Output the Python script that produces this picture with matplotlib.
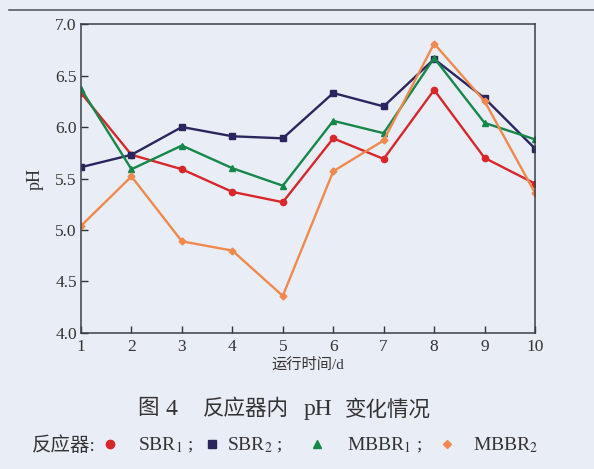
import matplotlib
matplotlib.use("Agg")
import matplotlib.pyplot as plt
from matplotlib.lines import Line2D

plt.rcParams["font.family"] = ["Liberation Serif", "Noto Sans CJK SC"]
plt.rcParams["mathtext.fontset"] = "stix"

# ---- data ----
DAYS = [1, 2, 3, 4, 5, 6, 7, 8, 9, 10]
SBR1 = [6.33, 5.73, 5.59, 5.37, 5.27, 5.89, 5.69, 6.36, 5.70, 5.45]
SBR2 = [5.61, 5.73, 6.00, 5.91, 5.89, 6.33, 6.20, 6.66, 6.28, 5.79]
MBBR1 = [6.37, 5.59, 5.82, 5.60, 5.43, 6.06, 5.94, 6.67, 6.04, 5.88]
MBBR2 = [5.04, 5.52, 4.89, 4.80, 4.36, 5.57, 5.87, 6.81, 6.25, 5.36]
YTICKS = [4.0, 4.5, 5.0, 5.5, 6.0, 6.5, 7.0]

BG = "#e9edf5"
RED, NAVY, GREEN, ORANGE = "#d8272b", "#2b255e", "#17864a", "#f0894e"
MIX = ["Liberation Serif", "Noto Sans CJK SC"]
TXT = "#333333"

fig = plt.figure(figsize=(5.94, 4.69), dpi=100, facecolor=BG)
ax = fig.add_axes([0.1364, 0.29, 0.7643, 0.6588], facecolor=BG)

ax.plot(DAYS, SBR1, color=RED, lw=1.7, marker="o", ms=4.5)
ax.plot(DAYS, SBR2, color=NAVY, lw=1.7, marker="s", ms=4)
ax.plot(DAYS, MBBR1, color=GREEN, lw=1.7, marker="^", ms=4.5)
ax.plot(DAYS, MBBR2, color=ORANGE, lw=1.7, marker="D", ms=3.5)

ax.set_xlim(1, 10)
ax.set_ylim(4.0, 7.0)
ax.set_xticks(DAYS)
ax.set_yticks(YTICKS)
ax.set_yticklabels([f"{v:.1f}" for v in YTICKS])
ax.tick_params(direction="in", length=5, width=1, labelsize=12.5, colors=TXT)
ax.tick_params(axis="x", pad=4)
ax.tick_params(axis="y", pad=3)
for s in ax.spines.values():
    s.set_color("#3a4048")
    s.set_linewidth(1.1)

ax.set_xlabel("运行时间/d", family=MIX, fontsize=11, color=TXT, labelpad=2)
ax.set_ylabel("pH", fontsize=13, color=TXT, labelpad=8)

# scan border line at top
fig.add_artist(Line2D([0.015, 1.0], [0.978, 0.978], transform=fig.transFigure,
                      color="#595c63", lw=1.2))

# caption, placed piece by piece
cy = 0.126
for px, s, fs in [(137, "图", 15.5), (165, "4", 17), (203, "反应器内", 15.5),
                  (304, "pH", 17), (345, "变化情况", 15.5)]:
    fig.text(px / 594, cy, s, family=MIX, fontsize=fs, color=TXT, va="center")

# legend line
ly = 0.05
fig.text(0.053, ly, "反应器:", family=MIX, fontsize=14, color=TXT, va="center")
items = [
    (0.185, "o", RED, 6, 0.232, r"SBR$_1$ ;"),
    (0.357, "s", NAVY, 5.5, 0.382, r"SBR$_2$ ;"),
    (0.534, "^", GREEN, 6, 0.585, r"MBBR$_1$ ;"),
    (0.753, "D", ORANGE, 4.5, 0.796, r"MBBR$_2$"),
]
for mx, mk, col, ms, tx, label in items:
    fig.add_artist(Line2D([mx], [ly + 0.004], transform=fig.transFigure, marker=mk,
                          color=col, ms=ms, lw=0))
    fig.text(tx, ly, label, fontsize=14, color=TXT, va="center")

fig.savefig("out.png", dpi=100, facecolor=BG)
